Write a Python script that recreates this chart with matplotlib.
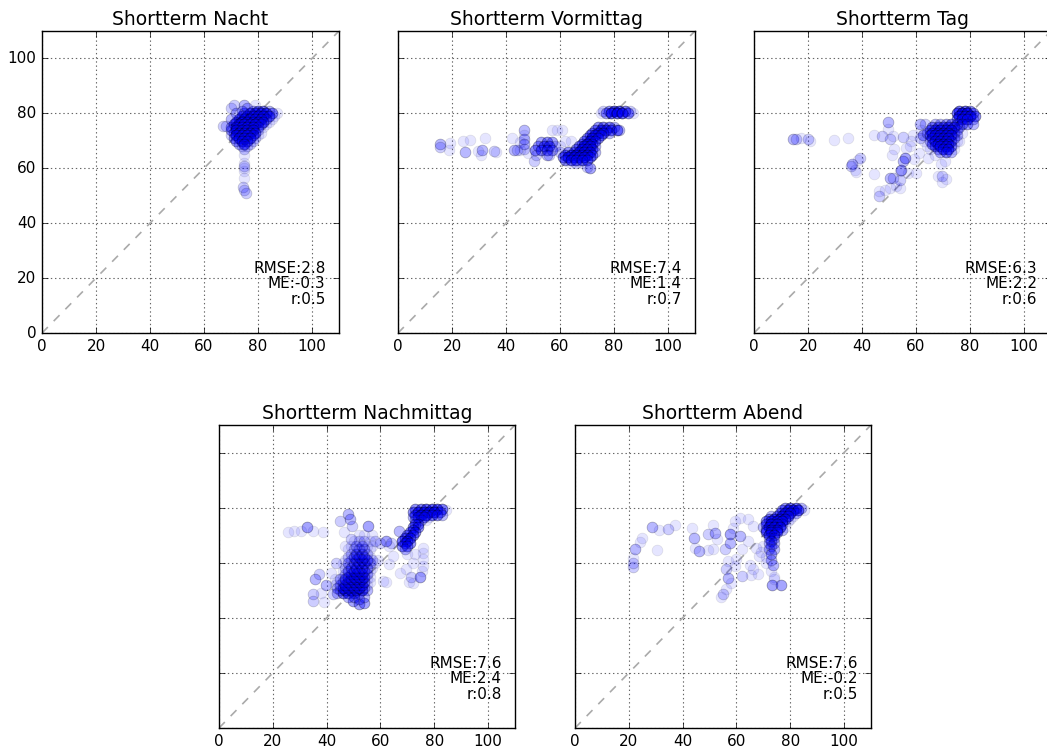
import matplotlib
matplotlib.use("Agg")
import matplotlib.pyplot as plt
import numpy as np

W, H = 1047, 749

titles = ["Shortterm Nacht", "Shortterm Vormittag", "Shortterm Tag", "Shortterm Nachmittag", "Shortterm Abend"]
stats = ["RMSE:2.8\nME:-0.3\nr:0.5", "RMSE:7.4\nME:1.4\nr:0.7", "RMSE:6.3\nME:2.2\nr:0.6",
         "RMSE:7.6\nME:2.4\nr:0.8", "RMSE:7.6\nME:-0.2\nr:0.5"]
ticks = [0, 20, 40, 60, 80, 100]

nacht_x = [78,80,82,84, 75,77,79,81,83,85,87, 74,76,78,80,82,84,86, 73,75,77,79,81,83,85, 72,74,76,78,80,82,84,
           71,73,75,77,79,81,83, 70,72,74,76,78,80,82, 70,72,74,76,78,80, 71,73,75,77,79,81, 70,72,74,76,78,80,
           71,73,75,77,79, 72,74,76,78, 73,75,77, 74,76,
           67,68,70,71,72,75,76,79,74,70, 75,75,75,75,75,75,75,74.5,75,75.5]
nacht_y = [81,81,81,81, 80,80,80,80,80,80,80, 79,79,79,79,79,79,79, 78,78,78,78,78,78,78, 77,77,77,77,77,77,77,
           76,76,76,76,76,76,76, 75,75,75,75,75,75,75, 74,74,74,74,74,74, 73,73,73,73,73,73, 72,72,72,72,72,72,
           71,71,71,71,71, 70,70,70,70, 69,69,69, 68,68,
           75.5,75.5,82,83,80,83,82,83,81,78, 67,65,62,61,60,59,56.5,53,52,51]
nacht_n = [4,6,6,3, 4,7,7,7,7,5,1, 6,7,7,7,7,6,1, 6,7,7,7,7,4,1, 6,7,7,7,7,6,1,
           6,7,7,7,7,4,1, 4,7,7,7,7,4,1, 4,7,7,7,7,2, 4,7,7,7,6,1, 2,7,7,7,4,1,
           4,7,7,7,2, 4,7,6,2, 3,6,2, 2,2,
           2,2,2,2,3,3,3,1,3,3, 2,1,1,2,1,1,1,2,2,2]

vorm_x = [15.7,15.7,18.8,19.4,23.9,26.7,24.7,29.5,31,30.8,32.4,35.4,36.4,42.2,42.8,44,45.3,45.3,46.8,46.8,46.8,46.8,46.8,48.3,50.2,
          53,55,57, 52,54,56,58, 50.8,53,55,57, 51,55,56, 60,62,64,60,57,59,60.6,
          74,76,78,80, 73,75,77,79,81,82, 72,74,76,78, 71,73,75, 70,72,74, 69,71,73, 68,70,72, 67,69,71,73, 66,68,70,72,
          63,65,67,69,71,73, 62,64,66,68,70,72, 61,63,65,67,69,71, 62,64,66,68,70, 64,66,68, 71,70,
          76,78,80,82,84,86, 75,77,79,81,83,85,87]
vorm_y = [68.7,67.8,66.5,69.3,69.9,70.2,66,66.2,66.5,64.8,70.9,66.2,65.9,70.9,66.5,66.5,66.5,69.6,73.9,72.3,70.5,68.7,67,65.6,62.6,
          69.5,69.5,69.5, 68,68,68,68, 66.5,66.5,66.5,66.5, 65,65,65, 68,70,70,66,73.9,74.1,74.1,
          75,75,75,75, 74,74,74,74,74,74, 73,73,73,73, 72,72,72, 71,71,71, 70,70,70, 69,69,69, 68,68,68,68, 67,67,67,67,
          66,66,66,66,66,66, 65,65,65,65,65,65, 64,64,64,64,64,64, 63,63,63,63,63, 62,62,62, 60,60.5,
          80.8,80.8,80.8,80.8,80.8,80.8, 80,80,80,80,80,80,80]
vorm_n = [3,2,1,1,1,1,3,1,3,1,1,2,1,1,3,2,1,1,3,1,3,3,2,1,2,
          4,5,4, 4,5,5,2, 5,5,5,4, 2,3,2, 1,1,1,2,1,1,1,
          5,6,6,3, 5,6,6,6,6,3, 5,6,6,3, 5,6,5, 5,7,5, 5,7,5, 5,7,5, 5,7,7,3, 5,7,7,5,
          5,5,7,7,7,3, 5,7,7,7,7,5, 5,7,7,7,7,5, 5,7,7,7,5, 1,2,1, 4,2,
          2,5,8,8,6,2, 1,4,8,8,8,5,1]

tag_x = [14.4,15.7,17.5,20,20.6,29.6,34.7,39.4,38.5,36.3,36,37.3,37.7,44.4,44.3,47.5,49.8,49.8,50.2,51.5,51.7,51.2,55.2,58.9,58.3,57.7,56.4,55.8,55.2,54.6,54,50.2,51.5,54,54,46.3,46.3,48.4,50.2,52.7,57,60.1,59.1,61,64.4,66.9,69.3,70.9,68.1,69.6,71,69.6,61.4,63.2,62.6,61.4,
         76,78,80, 75,77,79,81, 76,78,80,82, 75,77,79,81,
         67,69,71,73,75,77,79,81, 66,68,70,72,74,76, 65,67,69,71,73,75, 64,66,68,70,72,74, 65,67,69,71,73,75,
         66,68,70,72,74, 65,67,69,71,73,75, 66,68,70,72,74, 67,69,71,73, 68,70,72,74, 69,71,73,
         62,63,64,65,76,77]
tag_y = [70.5,70.5,70.9,70.5,70.1,70.2,71.1,63.8,62.9,61.7,60.7,59.5,58.7,58,72,71.6,77,74.4,70.7,71.7,67,64.8,71.5,72.3,69.9,68,67.4,63.8,62.6,59.5,59,56.5,56.5,55.9,52.8,49.8,51.6,52.2,52.8,53.4,58.3,58.3,63.2,65.6,63.8,65,61.7,62.6,57.3,57.1,56.1,55,76,76,72.3,71.1,
         81,81,81, 80,80,80,80, 79,79,79,79, 78,78,78,78,
         76,76,76,76,76,76,76,76, 75,75,75,75,75,75, 74,74,74,74,74,74, 73,73,73,73,73,73, 72,72,72,72,72,72,
         71,71,71,71,71, 70,70,70,70,70,70, 69,69,69,69,69, 68,68,68,68, 67,67,67,67, 66,66,66,
         74,70,68,67,70,73]
tag_n = [3,2,1,2,1,1,1,2,1,3,2,1,1,1,1,2,3,1,2,1,1,1,2,1,1,1,1,4,3,4,1,3,2,2,1,2,1,1,1,1,1,1,1,1,1,1,1,1,1,2,1,1,3,2,4,2,
         7,8,5, 7,9,9,5, 7,9,9,5, 5,7,7,3,
         3,3,4,5,5,5,4,3, 5,5,5,6,6,3, 5,6,7,7,7,3, 3,7,7,7,7,3, 5,7,7,7,7,3,
         5,7,7,7,3, 3,7,7,7,5,1, 5,7,7,7,1, 5,7,7,5, 3,7,7,1, 3,5,3,
         1,1,1,1,1,1]

nachm_x = [73,75,77,79,81,83,84.5, 72,74,76,78,80,82, 73,75,77,79,81,83, 72,74,76,78, 73,75,77, 74,73, 72,74, 72,
           71,73, 70,72, 69,71, 68,70, 69,71, 68,70, 69, 67,62,60,64,58,63,
           44,46,48,50,52, 45,47,49,51,53,55, 44,46,48,50,52,54, 43,45,47,49,51,53,55, 44,46,48,50,52,54,56,
           43,45,47,49,51,53,55, 46,48,50,52,54,56, 47,49,51,53,55, 46,48,50,52,54,56, 47,49,51,53,55,57,
           46,48,50,52,54,56,58, 47,49,51,53,55,57,59, 48,50,52,54,56, 49,51,53,55,
           48,50,52,54,56, 47,49,51,53,55,57, 50,52,54,56,58, 52,54,57,
           49.7,50,52,54,54,48,52,
           55.3,47.8,48.5,44.8,46.5,49.5,49,
           25.6,27.8,30.5,32.6,34.9,38.8,43.5,41.7,37.3,35.8,39.8,42.3,35,35,39.2,38,
           60.8,62,63.3,64.6,67.4,69.5,72,71.5,70.7,72.2,74.8,75.7,75.7,75.7,75.7,75.4,70,73]
nachm_y = [79.5,79.5,79.5,79.5,79.5,79.5,79, 78.5,78.5,78.5,78.5,78.5,78.5, 77.5,77.5,77.5,77.5,77.5,77.5, 76.5,76.5,76.5,76.5, 75.5,75.5,75.5, 74,74, 73,73, 72,
           71,71, 70,70, 69,69, 68,68, 67,67, 66,66, 65, 71.5,68,67,67,68,66,
           49,49,49,49,49, 50,50,50,50,50,50, 51,51,51,51,51,51, 52,52,52,52,52,52,52, 53,53,53,53,53,53,53,
           54,54,54,54,54,54,54, 55,55,55,55,55,55, 56,56,56,56,56, 57,57,57,57,57,57, 58,58,58,58,58,58,
           60,60,60,60,60,60,60, 61,61,61,61,61,61,61, 62,62,62,62,62, 63,63,63,63,
           65,65,65,65,65, 66,66,66,66,66,66, 68,68,68,68,68, 70,70,70,
           46,47.5,45,45.5,47.5,47.5,47,
           73.3,77.6,76,75,71,73.3,68.7,
           71.3,71.5,71.5,73,71.5,71.3,60,56.4,55.8,54,51.9,48.5,48.5,46,45.7,49,
           53.3,53,59.4,62.4,56.4,57.8,60,55,53,52.7,55,65.5,63.6,61.2,58.8,57,63,63]
nachm_n = [5,6,8,8,8,6,1, 5,8,8,8,8,5, 5,8,8,6,5,3, 3,5,5,1, 3,3,1, 5,5, 5,5, 5,
           5,5, 5,5, 6,6, 7,7, 5,5, 5,5, 3, 3,4,2,2,1,1,
           3,6,6,6,3, 3,6,8,8,7,3, 3,6,6,6,6,3, 1,3,5,5,5,5,1, 1,3,5,6,6,5,1,
           1,3,5,6,6,5,1, 1,4,5,6,5,1, 2,4,5,5,3, 1,4,5,5,4,1, 2,4,5,5,4,1,
           1,3,4,5,5,3,1, 1,2,4,5,5,2,1, 2,4,5,4,1, 2,4,4,2,
           1,2,3,3,1, 1,1,3,3,1,1, 1,2,2,1,1, 1,1,1,
           4,4,4,4,3,3,3,
           4,3,3,2,1,2,2,
           1,1,1,4,1,1,2,1,2,3,3,2,2,2,1,1,
           1,1,1,1,1,1,1,2,1,1,4,1,1,1,1,1,1,1]

abend_x = [21.7,21.5,21.7,22.3,24.2,25,28.8,31.2,34.4,37.2,30.4,43.6,44.2,44.6,46.2,49.5,51.2,49.5,52.2,51.4,52.6,55.7,57.5,57.5,58.8,59.4,61.2,64.3,66.2,61.2,64.3,62.2,67.4,68.3,56.9,60,59.4,56.3,57,58.1,56,55,54.4,61.9,64.9,65.5,68,66.2,
           78,80,82,84, 77,79,81,83,85, 76,78,80,82, 73,75,77,79,81, 72,74,76,78,80, 71,73,75,77,79, 71,73,75,77,
           70,72,74,76,78, 71,73,75,77, 71,73,75, 72,74, 72,74, 73, 72,74, 73, 72,74, 73, 73, 73.5, 73, 74, 73.3,76.4, 74,
           70,69,71,71]
abend_y = [58.5,59.8,61.8,65,67.5,68.8,73,72,72.4,73.6,64.8,72.7,69,65.4,64.2,64.8,65,70.3,70.7,73.6,68.5,65,70.3,67.3,72.7,75.2,76.4,75.8,73.3,69.7,67.9,65,65.4,62.4,60.6,61.2,58.8,57.6,54.5,52.7,50.5,48.5,47.6,55.2,59,55.4,55.8,57.6,
           80,80,80,80, 79,79,79,79,79, 78,78,78,78, 77,77,77,77,77, 76,76,76,76,76, 75,75,75,75,75, 74,74,74,74,
           73,73,73,73,73, 72,72,72,72, 71,71,71, 70,70, 69,69, 68, 67,67, 66, 65,65, 63, 61, 59, 57, 55, 52,52, 54,
           66,64,62,60]
abend_n = [2,2,1,3,1,1,3,1,2,1,1,1,3,1,3,1,1,2,3,1,1,2,4,3,1,1,1,1,1,3,1,1,1,1,1,1,1,2,3,1,1,2,1,2,1,1,1,1,
           5,7,7,3, 5,7,7,7,1, 5,7,7,3, 3,5,7,7,1, 5,7,7,7,1, 5,7,7,7,1, 5,7,7,3,
           3,7,7,7,1, 5,7,7,3, 5,7,5, 5,5, 3,3, 5, 3,3, 3, 3,3, 4, 3, 3, 1, 1, 4,4, 1,
           1,1,1,1]

panels_x = [nacht_x, vorm_x, tag_x, nachm_x, abend_x]
panels_y = [nacht_y, vorm_y, tag_y, nachm_y, abend_y]
panels_n = [nacht_n, vorm_n, tag_n, nachm_n, abend_n]

# left, top, right, bottom of each axes in pixels
boxes = [(42, 31, 339, 333), (398, 31, 695, 333), (754, 31, 1051, 333),
         (219, 425, 515, 728), (575, 425, 871, 728)]

plt.style.use("classic")
plt.rcParams["font.family"] = "DejaVu Sans"
fig = plt.figure(figsize=(W / 100, H / 100), dpi=100, facecolor="white")

for i in range(5):
    l, t, r, b = boxes[i]
    ax = fig.add_axes([l / W, 1 - b / H, (r - l) / W, (b - t) / H])
    x = np.repeat(panels_x[i], panels_n[i])
    y = np.repeat(panels_y[i], panels_n[i])
    ax.scatter(x, y, s=60, c="b", alpha=0.1, linewidths=0.5, zorder=3)
    ax.plot([0, 110], [0, 110], color="#aaaaaa", ls="--", lw=1.2, zorder=2)
    ax.set_xlim(0, 110)
    ax.set_ylim(0, 110)
    ax.set_xticks(ticks)
    ax.set_yticks(ticks)
    if i != 0:
        ax.set_yticklabels([])
    ax.grid(True, color="#666666", lw=0.8, ls=(0, (1, 2)))
    ax.set_axisbelow(True)
    ax.tick_params(labelsize=11)
    ax.set_title(titles[i], fontsize=13.5, pad=4.5)
    ax.text(105, 9.5, stats[i], ha="right", va="bottom", fontsize=11, linespacing=1.05)

fig.savefig("out.png", dpi=100, facecolor="white")
